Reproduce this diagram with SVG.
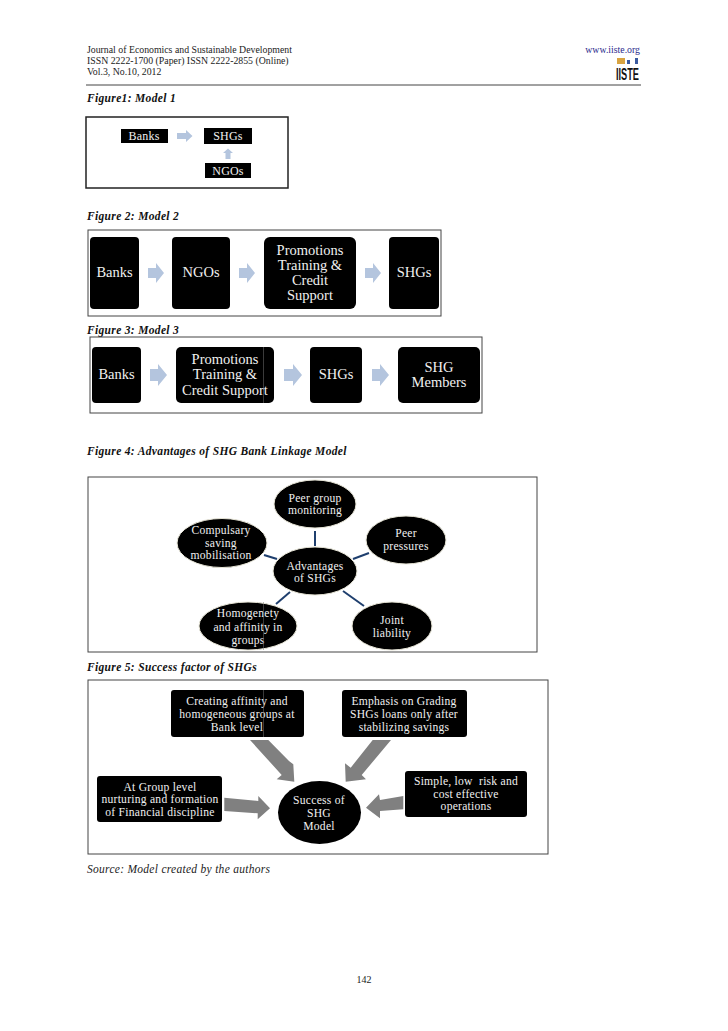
<svg xmlns="http://www.w3.org/2000/svg" width="728" height="1031" viewBox="0 0 728 1031">
<style>
text{font-family:"Liberation Serif","Times New Roman",serif}
.h{font-size:9.8px;fill:#222}
.cap{font-size:11.5px;font-weight:bold;font-style:italic;fill:#111;letter-spacing:.33px}
.frame{fill:#fff;stroke:#444;stroke-width:1}
.box{fill:#000}
.el{fill:#000;stroke:#e8e6d8;stroke-width:1}
.t{fill:#f0f0f0;text-anchor:middle}
.s1{font-size:12px;letter-spacing:.2px}
.s2{font-size:14.5px}
.s3{font-size:11.6px;letter-spacing:.25px}
.lt{fill:#b4c5de}
.dk{fill:#808080}
.ln{stroke:#1f3f6e;stroke-width:2;fill:none}
.seam{stroke:#777;stroke-width:.5}
</style>
<rect width="728" height="1031" fill="#fff"/>
<g id="header">
<text class="h" x="87" y="53">Journal of Economics and Sustainable Development</text>
<text class="h" x="87" y="64">ISSN 2222-1700 (Paper) ISSN 2222-2855 (Online)</text>
<text class="h" x="87" y="75">Vol.3, No.10, 2012</text>
<text class="h" x="640" y="53" text-anchor="end" style="fill:#2a2a8c">www.iiste.org</text>
<g id="logo">
<rect x="617" y="58" width="8" height="6" fill="#d9a441"/><rect x="627" y="60" width="3" height="4" fill="#3a5aa0"/><rect x="635" y="58" width="3" height="6" fill="#3a5aa0"/>
<text x="616" y="80" textLength="23" lengthAdjust="spacingAndGlyphs" style="font-family:'Liberation Sans',Arial,sans-serif;font-weight:bold;font-size:16px;fill:#111">IISTE</text>
</g>
<line x1="86" y1="85" x2="641" y2="85" stroke="#444" stroke-width="1"/>
<text class="cap" x="87" y="102">Figure1: Model 1</text>
<text class="cap" x="87" y="220">Figure 2: Model 2</text>
<text class="cap" x="87" y="334">Figure 3: Model 3</text>
<text class="cap" x="87" y="455">Figure 4: Advantages of SHG Bank Linkage Model</text>
<text class="cap" x="87" y="671">Figure 5: Success factor of SHGs</text>
<text x="87" y="873" style="font-size:11.5px;font-style:italic;fill:#222;letter-spacing:.28px">Source: Model created by the authors</text>
<text x="364" y="983" text-anchor="middle" style="font-size:10px;fill:#222">142</text>
</g>
<g id="frames">
<rect class="frame" x="86" y="117" width="202" height="71" style="stroke:#222;stroke-width:1.5"/>
<rect class="frame" x="88" y="230" width="353" height="86"/>
<rect class="frame" x="90" y="337" width="392" height="76"/>
<rect class="frame" x="88" y="477" width="449" height="175"/>
<rect class="frame" x="88" y="680" width="460" height="174"/>
</g>
<g id="connectors">
<path class="lt" d="M177 133h9v-3l6.500 6-6.500 6v-3h-9z"/>
<path class="lt" d="M225.500 159v-6h-2.500l5-4.500 5 4.500h-2.500v6z"/>
<path class="lt" d="M148 268h8v-5l8 10-8 10v-5h-8z"/>
<path class="lt" d="M239 268h8v-5l8 10-8 10v-5h-8z"/>
<path class="lt" d="M365 268h8v-5l8 10-8 10v-5h-8z"/>
<path class="lt" d="M150 369h8v-5l9 11-9 11v-5h-8z"/>
<path class="lt" d="M284 369h9v-5l9 11-9 11v-5h-9z"/>
<path class="lt" d="M372 369h8v-5l9 11-9 11v-5h-8z"/>
<line class="ln" x1="315" y1="531" x2="315" y2="546"/>
<line class="ln" x1="369" y1="553" x2="353" y2="559"/>
<line class="ln" x1="277" y1="559" x2="264" y2="555"/>
<line class="ln" x1="290" y1="592" x2="276" y2="604"/>
<line class="ln" x1="343" y1="591" x2="364" y2="606"/>
<polygon class="dk" points="250,740 268.300,740 289,761 293.300,764.300 294.300,781.700 276.700,779.300 281.700,775"/>
<polygon class="dk" points="372.700,740 391,740 361.700,775 366,779.300 345.700,781.700 345,763.300 350.700,767.700"/>
<polygon class="dk" points="224.300,797.700 258.300,801 258.300,796 270,808.300 257.700,819.300 257.700,813.300 224.300,811"/>
<polygon class="dk" points="403.300,796 403.300,809.300 380,811 380,818.300 366,807.700 379,794.300 380,800"/>
</g>
<g id="fig1-banks"><rect class="box" x="121" y="129" width="47" height="14"/><text class="t s1" x="144" y="140">Banks</text></g>
<g id="fig1-shgs"><rect class="box" x="204" y="128" width="48" height="16"/><text class="t s1" x="228" y="140">SHGs</text></g>
<g id="fig1-ngos"><rect class="box" x="205" y="163" width="46" height="15"/><text class="t s1" x="228" y="175">NGOs</text></g>

<g id="fig2-banks"><rect class="box" x="90" y="237" width="49" height="72" rx="4"/><text class="t s2" x="114.500" y="277">Banks</text></g>
<g id="fig2-ngos"><rect class="box" x="172" y="237" width="58" height="72" rx="4"/><text class="t s2" x="201" y="277">NGOs</text></g>
<g id="fig2-promo"><rect class="box" x="264" y="237" width="92" height="72" rx="6"/><text class="t s2"><tspan x="310" y="255">Promotions</tspan><tspan x="310" y="270">Training &amp;</tspan><tspan x="310" y="285">Credit</tspan><tspan x="310" y="300">Support</tspan></text></g>
<g id="fig2-shgs"><rect class="box" x="389" y="237" width="50" height="72" rx="4"/><text class="t s2" x="414" y="277">SHGs</text></g>

<g id="fig3-banks"><rect class="box" x="92" y="347" width="49" height="56" rx="4"/><text class="t s2" x="116.500" y="379">Banks</text></g>
<g id="fig3-promo"><rect class="box" x="176" y="347" width="98" height="56" rx="5"/><text class="t s2"><tspan x="225" y="364">Promotions</tspan><tspan x="225" y="379">Training &amp;</tspan><tspan x="225" y="395">Credit Support</tspan></text><line class="seam" x1="263.500" y1="347" x2="263.500" y2="403"/></g>
<g id="fig3-shgs"><rect class="box" x="310" y="347" width="52" height="56" rx="4"/><text class="t s2" x="336" y="379">SHGs</text></g>
<g id="fig3-members"><rect class="box" x="398" y="347" width="82" height="56" rx="5"/><text class="t s2"><tspan x="439" y="372">SHG</tspan><tspan x="439" y="387">Members</tspan></text></g>

<g id="adv-peer-group"><ellipse class="el" cx="315" cy="504" rx="41" ry="24"/><text class="t s3"><tspan x="315" y="502">Peer group</tspan><tspan x="315" y="514">monitoring</tspan></text></g>
<g id="adv-peer-pressures"><ellipse class="el" cx="406" cy="540" rx="40" ry="24"/><text class="t s3"><tspan x="406" y="537">Peer</tspan><tspan x="406" y="550">pressures</tspan></text></g>
<g id="adv-compulsary"><ellipse class="el" cx="222" cy="543" rx="45" ry="24.500"/><text class="t s3"><tspan x="221" y="534">Compulsary</tspan><tspan x="221" y="547">saving</tspan><tspan x="221" y="559">mobilisation</tspan></text></g>
<g id="adv-center"><ellipse class="el" cx="315" cy="571" rx="42" ry="24"/><text class="t s3"><tspan x="315" y="570">Advantages</tspan><tspan x="315" y="582">of SHGs</tspan></text></g>
<g id="adv-homogenety"><ellipse class="el" cx="248" cy="626" rx="49" ry="24"/><text class="t s3"><tspan x="248" y="617">Homogenety</tspan><tspan x="248" y="631">and affinity in</tspan><tspan x="248" y="644">groups</tspan></text><line class="seam" x1="263.500" y1="602" x2="263.500" y2="650"/></g>
<g id="adv-joint"><ellipse class="el" cx="392" cy="626" rx="40" ry="24"/><text class="t s3"><tspan x="392" y="624">Joint</tspan><tspan x="392" y="637">liability</tspan></text></g>

<g id="succ-creating"><rect class="box" x="171" y="690" width="133" height="47" rx="3"/><text class="t s3"><tspan x="237" y="705">Creating affinity and</tspan><tspan x="237" y="718">homogeneous groups at</tspan><tspan x="237" y="731">Bank level</tspan></text><line class="seam" x1="263.500" y1="690" x2="263.500" y2="737"/></g>
<g id="succ-emphasis"><rect class="box" x="342" y="690" width="125" height="47" rx="3"/><text class="t s3"><tspan x="404" y="705">Emphasis on Grading</tspan><tspan x="404" y="718">SHGs loans only after</tspan><tspan x="404" y="731">stabilizing savings</tspan></text></g>
<g id="succ-group"><rect class="box" x="97" y="776" width="125" height="46" rx="3"/><text class="t s3"><tspan x="160" y="791">At Group level</tspan><tspan x="160" y="803">nurturing and formation</tspan><tspan x="160" y="816">of Financial discipline</tspan></text></g>
<g id="succ-simple"><rect class="box" x="405" y="771" width="122" height="46" rx="3"/><text class="t s3"><tspan x="466" y="785" style="white-space:pre">Simple, low  risk and</tspan><tspan x="466" y="798">cost effective</tspan><tspan x="466" y="810">operations</tspan></text></g>
<g id="succ-center"><ellipse class="box" cx="319.500" cy="812.500" rx="41.500" ry="31.500"/><text class="t s3"><tspan x="319" y="804">Success of</tspan><tspan x="319" y="817">SHG</tspan><tspan x="319" y="830">Model</tspan></text></g>
</svg>
